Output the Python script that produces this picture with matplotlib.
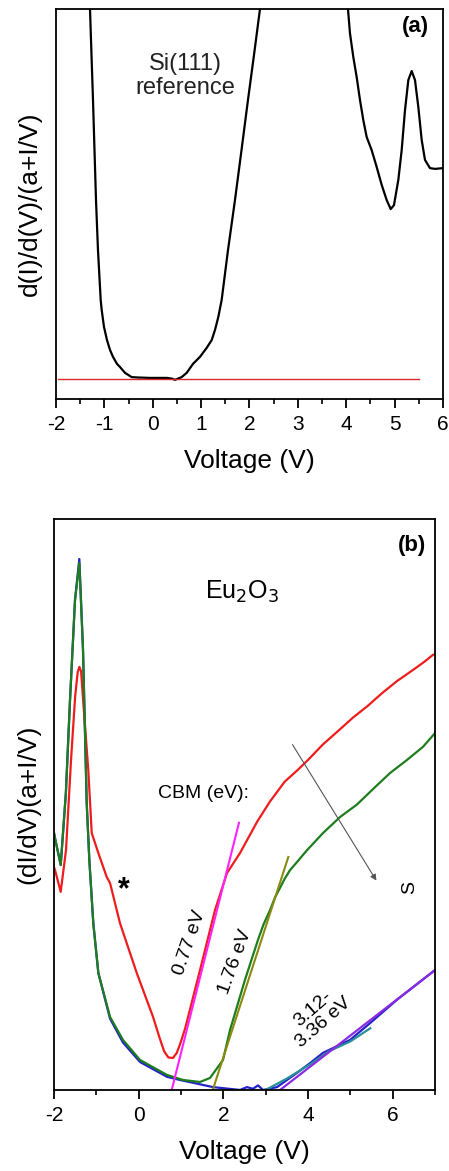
import matplotlib
matplotlib.use("Agg")
import matplotlib.pyplot as plt
from matplotlib.ticker import MultipleLocator

plt.rcParams['font.family'] = ['Liberation Sans', 'DejaVu Sans']
plt.rcParams['axes.unicode_minus'] = False

# (a) Si(111) reference curve, two branches that leave the top of the frame
si_left_v = [-1.32, -1.297, -1.266, -1.235, -1.204, -1.173, -1.132, -1.076, -1.055,
             -1.008, -0.946, -0.884, -0.822, -0.739, -0.677, -0.574, -0.435, -0.3,
             -0.057, 0.295, 0.40, 0.46, 0.598, 0.702, 0.832, 0.977, 1.115, 1.219,
             1.287, 1.355, 1.425, 1.556, 1.70, 1.835, 1.969, 2.093, 2.217, 2.25]
si_left_g = [1.08, 1.0, 0.882, 0.767, 0.638, 0.51, 0.382, 0.254, 0.228,
             0.185, 0.151, 0.126, 0.108, 0.090, 0.082, 0.067, 0.056, 0.055,
             0.054, 0.054, 0.052, 0.049, 0.056, 0.067, 0.090, 0.108, 0.131, 0.151,
             0.177, 0.210, 0.254, 0.382, 0.51, 0.638, 0.767, 0.882, 1.0, 1.08]
si_right_v = [3.97, 4.036, 4.077, 4.146, 4.215, 4.284, 4.353, 4.422, 4.526, 4.629,
              4.733, 4.836, 4.919, 4.987, 5.077, 5.146, 5.215, 5.284, 5.353, 5.421,
              5.49, 5.56, 5.628, 5.731, 5.835, 6.0]
si_right_g = [1.08, 1.0, 0.938, 0.877, 0.826, 0.767, 0.715, 0.672, 0.638, 0.595,
              0.549, 0.510, 0.487, 0.497, 0.562, 0.638, 0.741, 0.818, 0.841, 0.818,
              0.749, 0.664, 0.613, 0.592, 0.590, 0.592]
base_v = [-1.96, 5.5]
base_g = [0.051, 0.051]

# (b) Eu2O3 curves
red_v = [-2.0, -1.976, -1.842, -1.717, -1.598, -1.50, -1.44, -1.40, -1.36, -1.308,
         -1.19, -1.109, -0.953, -0.755, -0.677, -0.441, -0.046, 0.339, 0.5, 0.6, 0.7,
         0.811, 0.9, 0.977, 1.095, 1.449, 1.803, 2.087, 2.394, 2.8, 3.1, 3.45, 3.75,
         4.0, 4.35, 4.7, 5.06, 5.4, 5.75, 6.1, 6.45, 6.75, 6.95, 7.0]
red_g = [0.39, 0.385, 0.347, 0.42, 0.578, 0.69, 0.732, 0.741, 0.733, 0.678,
         0.56, 0.45, 0.415, 0.373, 0.3625, 0.292, 0.205, 0.128, 0.09, 0.068, 0.057,
         0.056, 0.065, 0.08, 0.107, 0.21, 0.315, 0.38, 0.415, 0.47, 0.505, 0.54, 0.56,
         0.578, 0.605, 0.628, 0.652, 0.672, 0.695, 0.716, 0.734, 0.75, 0.762, 0.763]
green_v = [-2.0, -1.976, -1.842, -1.72, -1.622, -1.504, -1.402, -1.315, -1.228,
           -1.166, -1.072, -0.953, -0.677, -0.37, 0.032, 0.67, 1.047, 1.449, 1.685,
           1.992, 2.158, 2.512, 2.819, 2.95, 3.103, 3.22, 3.339, 3.45, 3.575, 3.75,
           3.977, 4.355, 4.757, 5.158, 5.536, 5.937, 6.339, 6.717, 7.0]
green_g = [0.45, 0.441, 0.394, 0.52, 0.683, 0.858, 0.923, 0.771, 0.503,
           0.403, 0.292, 0.205, 0.128, 0.0876, 0.0525, 0.0263, 0.0175, 0.014, 0.021,
           0.0525, 0.105, 0.193, 0.263, 0.29, 0.315, 0.337, 0.354, 0.37, 0.385, 0.40,
           0.42, 0.45, 0.478, 0.50, 0.527, 0.555, 0.578, 0.601, 0.625]
blue_v = [-2.0, -1.976, -1.842, -1.72, -1.622, -1.504, -1.402, -1.315, -1.228,
          -1.166, -1.072, -0.953, -0.677, -0.37, 0.032, 0.67, 0.977, 1.756, 2.394,
          2.559, 2.70, 2.819, 2.937, 3.268, 3.741, 4.048, 4.355, 4.993, 5.465,
          6.103, 7.0]
blue_g = [0.45, 0.441, 0.394, 0.52, 0.683, 0.858, 0.93, 0.771, 0.503,
          0.403, 0.292, 0.205, 0.125, 0.083, 0.049, 0.023, 0.0175, 0.005, 0.0,
          0.005, 0.002, 0.008, 0.0, 0.005, 0.03, 0.047, 0.065, 0.0876, 0.117,
          0.158, 0.21]
teal_v = [3.0, 3.5, 4.05, 4.5, 5.0, 5.47]
teal_g = [0.0, 0.02, 0.045, 0.068, 0.085, 0.108]

# CBM fit lines
fit_077_v = [0.78, 2.37]
fit_077_g = [0.0, 0.468]
fit_176_v = [1.75, 3.535]
fit_176_g = [0.0, 0.408]
fit_336_v = [3.34, 7.0]
fit_336_g = [0.0, 0.21]


fig = plt.figure(figsize=(4.49, 11.71), dpi=100)
ax1 = fig.add_axes([0.1247, 0.6593, 0.8619, 0.3330])
ax2 = fig.add_axes([0.1203, 0.0692, 0.8485, 0.4876])

for ax in (ax1, ax2):
    for sp in ax.spines.values():
        sp.set_linewidth(1.3)
    ax.set_yticks([])
    ax.tick_params(axis='x', which='major', direction='out', length=6.5, width=1.3,
                   labelsize=15, pad=5)
    ax.tick_params(axis='x', which='minor', direction='out', length=3.5, width=1.2)
    ax.set_xlabel('Voltage (V)', fontsize=19, labelpad=11)
    ax.set_ylim(0, 1)

# panel (a)
ax1.plot(si_left_v, si_left_g, color='black', lw=1.6)
ax1.plot(si_right_v, si_right_g, color='black', lw=1.6)
ax1.plot(base_v, base_g, color='#d42a2a', lw=1.0)
ax1.set_xlim(-2, 6)
ax1.xaxis.set_major_locator(MultipleLocator(1))
ax1.xaxis.set_minor_locator(MultipleLocator(0.5))
ax1.set_ylabel('d(I)/d(V)/(a+I/V)', fontsize=19, labelpad=10)
ax1.text(5.44, 0.954, '(a)', fontsize=16, fontweight='bold', ha='center', va='center')
ax1.text(0.667, 0.828, 'Si(111)\nreference', fontsize=17, ha='center', va='center',
         linespacing=1.1, color='#222222')

# panel (b)
ax2.plot(blue_v, blue_g, color='#2323c8', lw=1.6)
ax2.plot(teal_v, teal_g, color='#2a8f9a', lw=1.6)
ax2.plot(red_v, red_g, color='#ee1c1c', lw=1.6)
ax2.plot(green_v, green_g, color='#1e7d1e', lw=1.6)
ax2.plot(fit_077_v, fit_077_g, color='#ff22ff', lw=1.5)
ax2.plot(fit_176_v, fit_176_g, color='#8a8a10', lw=1.5)
ax2.plot(fit_336_v, fit_336_g, color='#8a2be2', lw=1.6)
ax2.annotate('', xy=(5.65, 0.3625), xytext=(3.60, 0.609),
             arrowprops=dict(arrowstyle='-|>', color='#555555', lw=0.8,
                             mutation_scale=9))
ax2.set_xlim(-2, 7)
ax2.xaxis.set_major_locator(MultipleLocator(2))
ax2.xaxis.set_minor_locator(MultipleLocator(1))
ax2.set_ylabel('(dI/dV)(a+I/V)', fontsize=19, labelpad=10)
ax2.text(6.46, 0.954, '(b)', fontsize=16, fontweight='bold', ha='center', va='center')
ax2.text(2.44, 0.872, 'Eu$_2$O$_3$', fontsize=18, ha='center', va='center')
ax2.text(1.52, 0.52, 'CBM (eV):', fontsize=14, ha='center', va='center')
ax2.text(1.21, 0.257, '0.77 eV', fontsize=14, rotation=71, ha='center', va='center')
ax2.text(2.28, 0.224, '1.76 eV', fontsize=14, rotation=70, ha='center', va='center')
ax2.text(4.24, 0.13, '3.12-\n3.36 eV', fontsize=14, rotation=41, ha='center',
         va='center', linespacing=1.0)
ax2.text(-0.35, 0.35, '*', fontsize=22, fontweight='bold', ha='center', va='center')
ax2.text(6.41, 0.355, 'S', fontsize=14, rotation=90, ha='center', va='center')

fig.savefig('out.png', dpi=100)
